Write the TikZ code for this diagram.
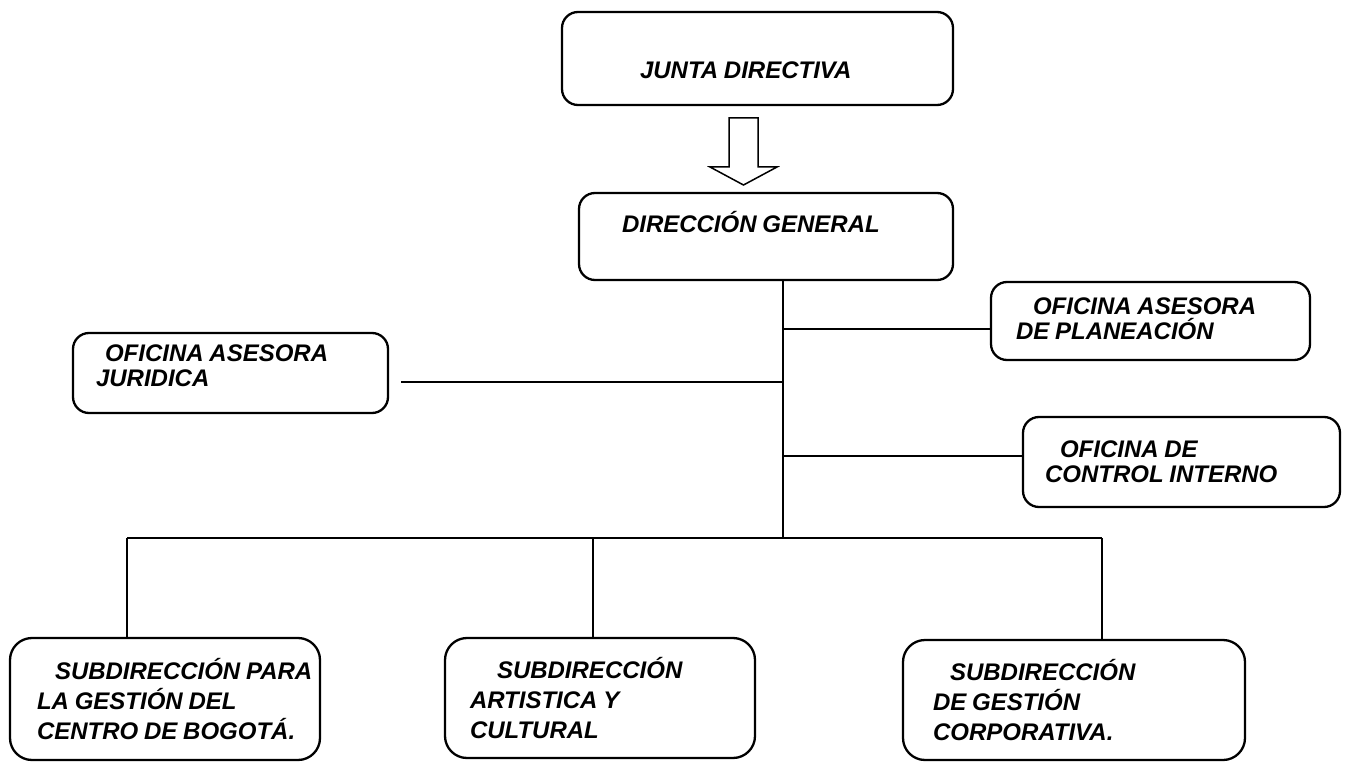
\documentclass[tikz,border=0pt]{standalone}
\usepackage{fontspec}
\setmainfont{Liberation Sans}
\usepackage{tikz}
\newcommand\tightspace{\spaceskip=0.24em plus 0.05em\relax}
\tikzset{
    unit/.style={draw, line width=2.3pt, rounded corners=16pt, align=left, inner sep=0pt,
        font=\fontsize{24}{25}\selectfont\bfseries\itshape, execute at begin node=\tightspace},
    subunit/.style={unit, rounded corners=22pt,
        font=\fontsize{24}{30}\selectfont\bfseries\itshape},
    link/.style={line width=2pt},
}

\begin{document}
\begin{tikzpicture}[x=1pt, y=-1pt]
    \useasboundingbox (0,0) rectangle (1347,762);
    \node[unit, minimum width=391pt, minimum height=93pt, text width=391pt, text height=40pt] (junta) at (757.5,58.5) {\hspace*{78pt}JUNTA DIRECTIVA};
    \node[unit, minimum width=374pt, minimum height=87pt, text width=374pt, text depth=30pt] (direccion) at (766,236.5) {\hspace*{43pt}DIRECCIÓN GENERAL};
    \node[unit, minimum width=315pt, minimum height=80pt, text width=315pt, text depth=39pt] (juridica) at (230.5,373) {\hspace*{32pt}OFICINA ASESORA\\\hspace*{23pt}JURIDICA};
    \node[unit, minimum width=319pt, minimum height=78pt, text width=319pt, text depth=29pt] (planeacion) at (1150.5,321) {\hspace*{42pt}OFICINA ASESORA\\\hspace*{25pt}DE PLANEACIÓN};
    \node[unit, minimum width=317pt, minimum height=90pt, text width=317pt] (control) at (1181.5,462) {\hspace*{37pt}OFICINA DE\\\hspace*{22pt}CONTROL INTERNO};
    \node[subunit, minimum width=310pt, minimum height=122pt, text width=310pt] (sub1) at (165,699) {\hspace*{45pt}SUBDIRECCIÓN PARA\\\hspace*{27pt}LA GESTIÓN DEL\\\hspace*{27pt}CENTRO DE BOGOTÁ.};
    \node[subunit, minimum width=310pt, minimum height=120pt, text width=310pt] (sub2) at (600,698) {\hspace*{52pt}SUBDIRECCIÓN\\\hspace*{25pt}ARTISTICA Y\\\hspace*{25pt}CULTURAL};
    \node[subunit, minimum width=342pt, minimum height=120pt, text width=342pt] (sub3) at (1074,700) {\hspace*{47pt}SUBDIRECCIÓN\\\hspace*{30pt}DE GESTIÓN\\\hspace*{30pt}CORPORATIVA.};

    \coordinate (flecha) at (743.5,118);
    \draw[line width=1.5pt, line join=miter] (flecha) ++(-14.5,0) -- ++(29,0) -- ++(0,49) -- ++(19,0) -- ++(-33.5,18) -- ++(-33.5,-18) -- ++(19,0) -- cycle;

    \coordinate (nodo) at (783,538);
    \draw[link] (direccion.south -| nodo) -- (nodo);
    \draw[link] ([yshift=-8pt]planeacion.west -| nodo) -- ([yshift=-8pt]planeacion.west);
    \draw[link, shorten >=12pt] ([yshift=-9pt]juridica.east -| nodo) -- ([yshift=-9pt]juridica.east);
    \draw[link] ([yshift=6pt]control.west -| nodo) -- ([yshift=6pt]control.west);

    \coordinate (b1) at (127,538);
    \coordinate (b2) at (593,538);
    \coordinate (b3) at (1102,538);
    \draw[link] (b1) -- (b3);
    \foreach \c/\n in {b1/sub1, b2/sub2, b3/sub3}
        \draw[link] (\c) -- (\c |- \n.north);
\end{tikzpicture}
\end{document}
